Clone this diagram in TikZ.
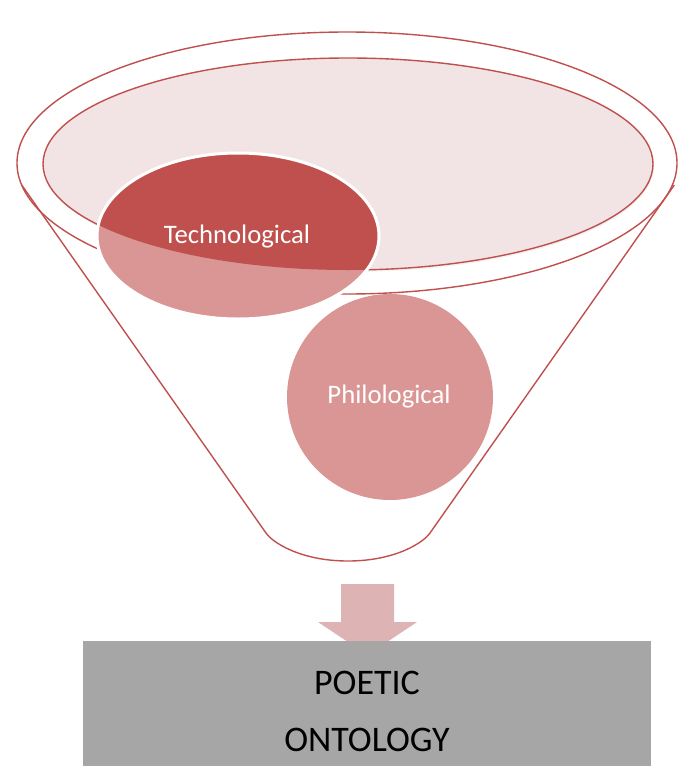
\documentclass[tikz,border=0pt]{standalone}
\usepackage{fontspec}
\setmainfont{Carlito}
\definecolor{funnelred}{HTML}{C0504D}
\definecolor{lightred}{HTML}{D99694}
\definecolor{palepink}{HTML}{F2E4E4}
\definecolor{arrowpink}{HTML}{DDB3B3}
\definecolor{boxgray}{HTML}{A6A6A6}
\tikzset{
  funnelline/.style={draw=funnelred, line width=1.4pt, line join=round},
  whitelabel/.style={text=white, font=\fontsize{26.7}{32}\selectfont, inner sep=0pt},
  boxlabel/.style={text=black, font=\fontsize{36}{44}\selectfont, inner sep=0pt}
}
\begin{document}
\begin{tikzpicture}[x=1pt,y=-1pt]
\useasboundingbox (0,0) rectangle (680,766);
% funnel outline
\draw[funnelline] (347,163) ellipse [x radius=330, y radius=131];
\draw[funnelline] (21.7,185) -- (266,533) .. controls (272,542) and (300,561) .. (348,561)
  .. controls (396,561) and (424,542) .. (430,533) -- (674.3,185);
% inner ellipse
\fill[black!5] (349,166) ellipse [x radius=305, y radius=106];
\draw[funnelline, fill=palepink] (348,164) ellipse [x radius=305, y radius=106];
% technological ellipse
\fill[lightred] (238,236) ellipse [x radius=141, y radius=83];
\begin{scope}
  \clip (348,164) ellipse [x radius=305, y radius=106];
  \fill[funnelred] (238,236) ellipse [x radius=141, y radius=83];
\end{scope}
\draw[white, line width=3pt] (238,236) ellipse [x radius=141, y radius=83];
\node[whitelabel] (tech) at (237,237) {Technological};
% philological circle
\fill[lightred] (390,397) circle [radius=103];
\node[whitelabel] (phil) at (389,397) {Philological};
% arrow
\coordinate (arrowtop) at (367,584);
\fill[arrowpink] (341,584) -- (394,584) -- (394,622) -- (417,622) -- (367.5,655)
  -- (318,622) -- (341,622) -- cycle;
% box
\fill[boxgray] (83,641) rectangle (651,766);
\node[boxlabel] (poetic) at (367,683) {POETIC};
\node[boxlabel] (onto) at (367,740) {ONTOLOGY};
\end{tikzpicture}
\end{document}
